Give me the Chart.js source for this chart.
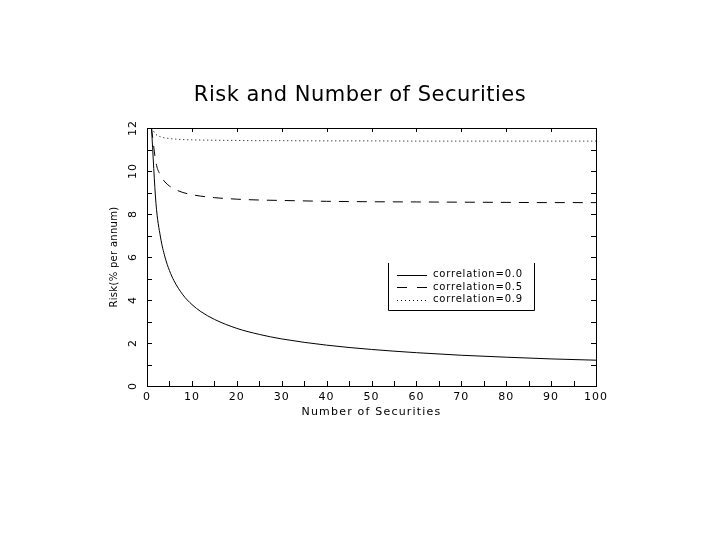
<!DOCTYPE html>
<html>
<head>
<meta charset="utf-8">
<script src="https://cdn.jsdelivr.net/npm/chart.js@4/dist/chart.umd.min.js"></script>
<style>
  html, body { margin: 0; padding: 0; background: #fff; }
  #wrap { width: 720px; height: 540px; }
</style>
</head>
<body>
<div id="wrap"><canvas id="riskChart" width="720" height="540"></canvas></div>
<script>
// --- data ---
const securities = [1, 2, 3, 4, 5, 6, 8, 10, 12, 15, 20, 25, 30, 40, 50, 60, 70, 80, 90, 100];
const riskCorr00 = [12, 8.49, 6.93, 6.0, 5.37, 4.9, 4.24, 3.79, 3.46, 3.1, 2.68, 2.4, 2.19, 1.9, 1.7, 1.55, 1.43, 1.34, 1.26, 1.2];
const riskCorr05 = [12, 10.39, 9.8, 9.49, 9.3, 9.17, 9.0, 8.9, 8.83, 8.76, 8.69, 8.65, 8.63, 8.59, 8.57, 8.56, 8.55, 8.54, 8.53, 8.53];
const riskCorr09 = [12, 11.7, 11.59, 11.54, 11.51, 11.49, 11.46, 11.45, 11.44, 11.43, 11.42, 11.41, 11.41, 11.4, 11.4, 11.39, 11.39, 11.39, 11.39, 11.39];
const seriesLabels = ['correlation=0.0', 'correlation=0.5', 'correlation=0.9'];
const xTickValues = [0, 10, 20, 30, 40, 50, 60, 70, 80, 90, 100];
const yTickValues = [0, 2, 4, 6, 8, 10, 12];

const FONT = '"DejaVu Sans", sans-serif';

function toPoints(values) {
  return securities.map((n, i) => ({ x: n, y: values[i] }));
}

// frame, inward ticks, rotated labels, title and boxed legend
const frameAndText = {
  id: 'frameAndText',
  afterDraw(chart) {
    const ctx = chart.ctx;
    const xs = chart.scales.x;
    const ys = chart.scales.y;
    const a = chart.chartArea;
    ctx.save();
    ctx.strokeStyle = '#000';
    ctx.fillStyle = '#000';
    ctx.lineWidth = 1;
    ctx.setLineDash([]);

    // frame
    ctx.strokeRect(Math.round(a.left) + 0.5, Math.round(a.top) + 0.5,
      Math.round(a.right - a.left), Math.round(a.bottom - a.top));

    // x ticks: bottom every 5, top every 10
    ctx.beginPath();
    for (let v = 0; v <= 100; v += 5) {
      const px = Math.round(xs.getPixelForValue(v)) + 0.5;
      ctx.moveTo(px, a.bottom);
      ctx.lineTo(px, a.bottom - 5);
      if (v % 10 === 0) {
        ctx.moveTo(px, a.top);
        ctx.lineTo(px, a.top + 4);
      }
    }
    // y ticks: every 1 on both sides
    for (let v = 0; v <= 12; v += 1) {
      const py = Math.round(ys.getPixelForValue(v)) + 0.5;
      ctx.moveTo(a.left, py);
      ctx.lineTo(a.left + 5, py);
      ctx.moveTo(a.right, py);
      ctx.lineTo(a.right - 5, py);
    }
    ctx.stroke();

    // x tick labels
    ctx.font = '11px ' + FONT;
    ctx.letterSpacing = '1px';
    ctx.textAlign = 'center';
    ctx.textBaseline = 'middle';
    xTickValues.forEach(v => {
      ctx.fillText(String(v), xs.getPixelForValue(v), a.bottom + 11);
    });

    // y tick labels, rotated
    yTickValues.forEach(v => {
      ctx.save();
      ctx.translate(a.left - 14, ys.getPixelForValue(v));
      ctx.rotate(-Math.PI / 2);
      ctx.fillText(String(v), 0, 0);
      ctx.restore();
    });

    // axis titles
    ctx.font = '11px ' + FONT;
    ctx.letterSpacing = '1.2px';
    ctx.fillText('Number of Securities', (a.left + a.right) / 2, a.bottom + 26);
    ctx.save();
    ctx.translate(a.left - 33, 257);
    ctx.rotate(-Math.PI / 2);
    ctx.font = '10px ' + FONT;
    ctx.letterSpacing = '0.3px';
    ctx.fillText('Risk(% per annum)', 0, 0);
    ctx.restore();

    // title
    ctx.font = '21px ' + FONT;
    ctx.letterSpacing = '0.5px';
    ctx.fillText('Risk and Number of Securities', 360, 96);

    // legend box (no top edge)
    const lx0 = 388.5, lx1 = 534.5, ly0 = 263, ly1 = 310.5;
    ctx.beginPath();
    ctx.moveTo(lx0, ly0); ctx.lineTo(lx0, ly1); ctx.lineTo(lx1, ly1); ctx.lineTo(lx1, ly0);
    ctx.stroke();

    const dashes = [[], [10, 10], [1, 3]];
    ctx.font = '10px ' + FONT;
    ctx.letterSpacing = '0.8px';
    ctx.textAlign = 'left';
    seriesLabels.forEach((label, i) => {
      const y = 274.5 + i * 12.5;
      ctx.setLineDash(dashes[i]);
      ctx.beginPath();
      ctx.moveTo(397, Math.round(y) + 0.5);
      ctx.lineTo(427, Math.round(y) + 0.5);
      ctx.stroke();
      ctx.fillText(label, 433, y);
    });
    ctx.restore();
  }
};

const chartCtx = document.getElementById('riskChart').getContext('2d');
new Chart(chartCtx, {
  type: 'line',
  data: {
    datasets: [{
      label: seriesLabels[0],
      data: toPoints(riskCorr00),
      borderColor: '#000',
      borderWidth: 1,
      pointRadius: 0,
      cubicInterpolationMode: 'monotone'
    }, {
      label: seriesLabels[1],
      data: toPoints(riskCorr05),
      borderColor: '#000',
      borderWidth: 1,
      borderDash: [10, 8],
      pointRadius: 0,
      cubicInterpolationMode: 'monotone'
    }, {
      label: seriesLabels[2],
      data: toPoints(riskCorr09),
      borderColor: '#000',
      borderWidth: 1,
      borderDash: [1, 3],
      pointRadius: 0,
      cubicInterpolationMode: 'monotone'
    }]
  },
  options: {
    responsive: false,
    animation: false,
    layout: { padding: { left: 147, right: 124, top: 128, bottom: 154 } },
    plugins: {
      legend: { display: false },
      title: { display: false },
      tooltip: { enabled: false }
    },
    scales: {
      x: { type: 'linear', min: 0, max: 100, display: false },
      y: { type: 'linear', min: 0, max: 12, display: false }
    }
  },
  plugins: [frameAndText]
});
</script>
</body>
</html>
